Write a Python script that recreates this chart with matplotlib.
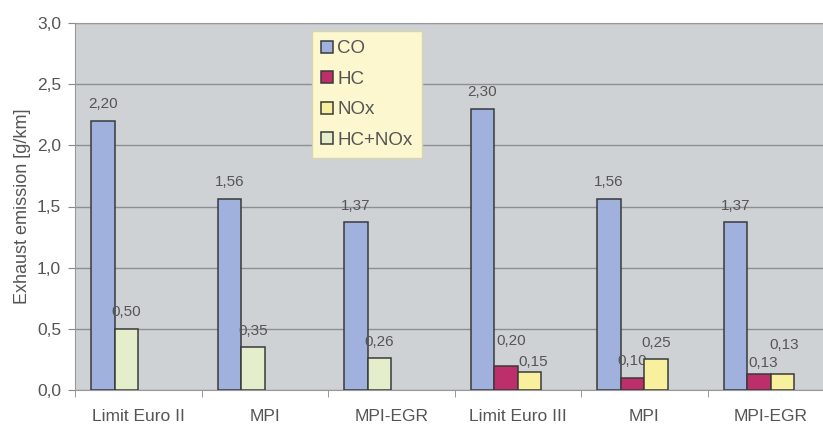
import numpy as np
import matplotlib.pyplot as plt
from matplotlib.ticker import FixedLocator

plt.rcParams['font.family'] = ['Liberation Sans', 'DejaVu Sans']

GROUPS = ["Limit Euro II", "MPI", "MPI-EGR", "Limit Euro III", "MPI", "MPI-EGR"]
SERIES = ["CO", "HC", "NOx", "HC+NOx"]
CO = [2.20, 1.56, 1.37, 2.30, 1.56, 1.37]
HC = [np.nan, np.nan, np.nan, 0.20, 0.10, 0.13]
NOX = [np.nan, np.nan, np.nan, 0.15, 0.25, 0.13]
HC_NOX = [0.50, 0.35, 0.26, np.nan, np.nan, np.nan]
VALUES = [CO, HC, NOX, HC_NOX]

COLORS = ["#9fb1dc", "#bc2f6a", "#f8f09c", "#e5eecb"]
SLOT = [-1.5, -0.5, 0.5, -0.5]   # bar slot inside each group (as in the original Excel chart)
W = 0.186
TXT = "#555"
# label nudges in points (dx, dy) where Excel moved labels to avoid overlap
NUDGE = {(1, 3): (4, 6), (2, 3): (3, -5), (1, 5): (3, -4), (2, 5): (1, 9)}

fig = plt.figure(figsize=(8.23, 4.26), dpi=100)
ax = fig.add_axes([75 / 823, 1 - 390 / 426, 759 / 823, 367 / 426])
ax.set_facecolor("#cfd2d5")

x = np.arange(len(GROUPS))
for s, (name, vals, col) in enumerate(zip(SERIES, VALUES, COLORS)):
    ax.bar(x + SLOT[s] * W, vals, W, color=col, edgecolor="#3a3a3a", lw=1.1,
           label=name, zorder=3)
    for g, v in enumerate(vals):
        if np.isnan(v):
            continue
        dx, dy = NUDGE.get((s, g), (0, 0))
        ax.annotate(f"{v:.2f}".replace(".", ","), (x[g] + SLOT[s] * W, v),
                    xytext=(dx, 12 + dy), textcoords="offset points",
                    ha="center", va="center", fontsize=11, color=TXT)

ax.set_xlim(-0.5, 5.5)
ax.set_ylim(0, 3.0)
ticks = np.arange(0, 3.01, 0.5)
ax.set_yticks(ticks)
ax.set_yticklabels([f"{t:.1f}".replace(".", ",") for t in ticks])
ax.set_xticks(x)
ax.set_xticklabels(GROUPS)
ax.xaxis.set_minor_locator(FixedLocator(np.arange(-0.5, 6, 1.0)))
ax.tick_params(axis="x", which="major", length=0, pad=14, labelsize=12.5, colors=TXT)
ax.tick_params(axis="x", which="minor", length=5, color="#888")
ax.tick_params(axis="y", length=5, color="#888", labelsize=12.5, labelcolor=TXT, pad=5)
ax.grid(axis="y", color="#8c8f93", lw=1, zorder=1)
for sp in ax.spines.values():
    sp.set_color("#999")
ax.spines["right"].set_visible(False)
ax.set_ylabel("Exhaust emission [g/km]", fontsize=13, color=TXT, labelpad=4)

leg = ax.legend(loc="upper left", bbox_to_anchor=((312 - 75) / 759, (390 - 31) / 367),
                fontsize=13.5, frameon=True, fancybox=False, handlelength=0.6,
                handleheight=0.6, handletextpad=0.25, labelspacing=0.72,
                borderpad=0.5, borderaxespad=0)
leg.get_frame().set_facecolor("#fcf7cf")
leg.get_frame().set_edgecolor("#d8d4b0")
leg.get_frame().set_alpha(1)
for t in leg.get_texts():
    t.set_color(TXT)

fig.savefig("out.png", dpi=100, facecolor="white")
